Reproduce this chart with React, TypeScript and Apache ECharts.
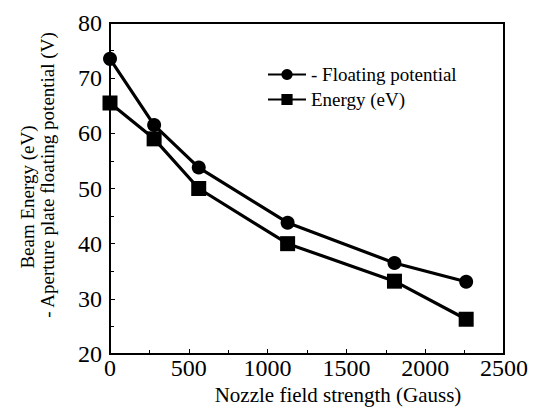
import React, { useEffect, useRef } from "react";
import * as echarts from "echarts";

const fieldStrength = [0, 280, 563, 1127, 1805, 2260];
const floatingPotential = [73.5, 61.5, 53.8, 43.8, 36.5, 33.1];
const beamEnergy = [65.5, 59, 50, 40, 33.2, 26.3];
const seriesNames = ["- Floating potential", "Energy (eV)"];
const xTitle = "Nozzle field strength (Gauss)";
const yTitleLines = ["Beam Energy (eV)", "- Aperture plate floating potential (V)"];

const FONT = "Liberation Serif";

export default function App() {
  const ref = useRef<HTMLDivElement>(null);
  useEffect(() => {
    if (!ref.current) return;
    const chart = echarts.init(ref.current, undefined, { renderer: "svg" });
    const pair = (ys: number[]) => fieldStrength.map((x, i) => [x, ys[i]]);
    chart.setOption({
      animation: false,
      backgroundColor: "#fff",
      textStyle: { fontFamily: FONT, color: "#000" },
      grid: {
        left: 110,
        right: 34,
        top: 23,
        bottom: 63,
        show: true,
        borderColor: "#000",
        borderWidth: 2,
        backgroundColor: "transparent",
      },
      legend: {
        left: 262,
        top: 60,
        orient: "vertical",
        itemWidth: 38,
        itemHeight: 14,
        itemGap: 6,
        textStyle: { fontFamily: FONT, fontSize: 19, color: "#000" },
        data: seriesNames,
      },
      graphic: [
        {
          type: "text",
          x: 338,
          y: 395,
          style: {
            text: xTitle,
            font: `21px ${FONT}`,
            fill: "#000",
            textAlign: "center",
            textVerticalAlign: "middle",
          },
        },
        {
          type: "text",
          x: 27,
          y: 197,
          rotation: Math.PI / 2,
          style: {
            text: yTitleLines[0],
            font: `19px ${FONT}`,
            fill: "#000",
            textAlign: "center",
            textVerticalAlign: "middle",
          },
        },
        {
          type: "text",
          x: 47,
          y: 175,
          rotation: Math.PI / 2,
          style: {
            text: yTitleLines[1],
            font: `19px ${FONT}`,
            fill: "#000",
            textAlign: "center",
            textVerticalAlign: "middle",
          },
        },
      ],
      xAxis: {
        type: "value",
        min: 0,
        max: 2500,
        interval: 500,
        axisLine: { lineStyle: { color: "#000", width: 2 } },
        axisTick: { inside: true, length: 5, lineStyle: { color: "#000" } },
        minorTick: { show: true, splitNumber: 2, length: 4, lineStyle: { color: "#000" } },
        axisLabel: {
          fontFamily: FONT,
          fontSize: 24,
          color: "#000",
          margin: 2,
          formatter: (v: number) => String(v),
        },
        splitLine: { show: false },
      },
      yAxis: {
        type: "value",
        min: 20,
        max: 80,
        interval: 10,
        axisLine: { lineStyle: { color: "#000", width: 2 } },
        axisTick: { inside: true, length: 5, lineStyle: { color: "#000" } },
        minorTick: { show: true, splitNumber: 2, length: 4, lineStyle: { color: "#000" } },
        axisLabel: { fontFamily: FONT, fontSize: 24, color: "#000", margin: 8 },
        splitLine: { show: false },
      },
      series: [
        {
          name: seriesNames[0],
          type: "line",
          data: pair(floatingPotential),
          symbol: "circle",
          symbolSize: 14,
          lineStyle: { color: "#000", width: 3.2 },
          itemStyle: { color: "#000" },
        },
        {
          name: seriesNames[1],
          type: "line",
          data: pair(beamEnergy),
          symbol: "rect",
          symbolSize: 15,
          lineStyle: { color: "#000", width: 3.2 },
          itemStyle: { color: "#000" },
        },
      ],
    });
    return () => chart.dispose();
  }, []);
  return (
    <div
      ref={ref}
      style={{ position: "fixed", left: 0, top: 0, width: 538, height: 417 }}
    />
  );
}
